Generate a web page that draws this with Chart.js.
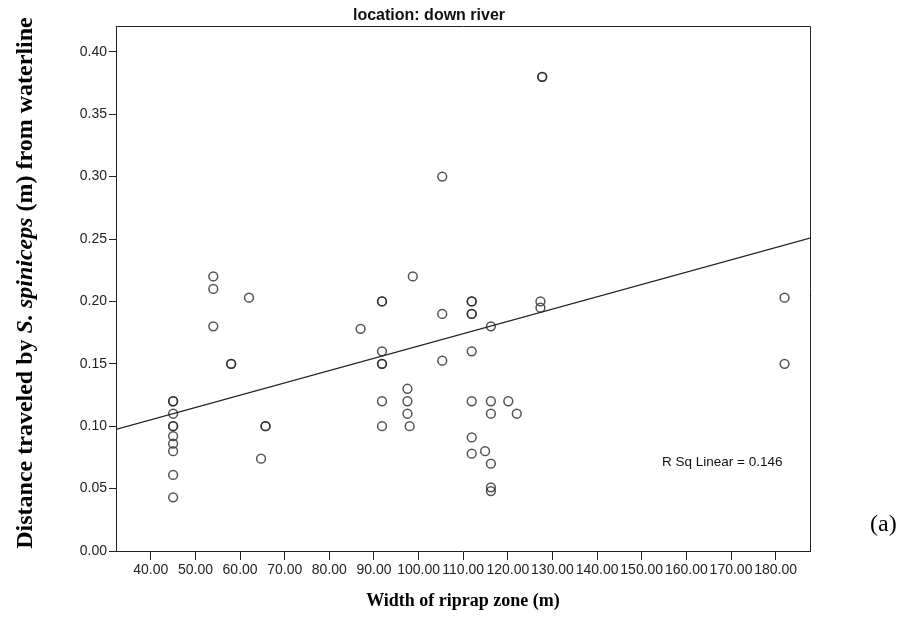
<!DOCTYPE html>
<html>
<head>
<meta charset="utf-8">
<title>location: down river</title>
<script src="https://cdn.jsdelivr.net/npm/chart.js@4/dist/chart.umd.min.js"></script>
<style>
  body { margin: 0; background: #fff; }
  #wrap { width: 905px; height: 628px; position: relative; }
</style>
</head>
<body>
<div id="wrap"><canvas id="chart"></canvas></div>
<script>
// riprap width (m) and distance from waterline (m), one entry per fish
const widths = [
  45, 45, 45, 45, 45, 45, 45, 45, 45, 45,
  54, 54, 54,
  58, 58,
  62,
  64.7,
  65.7, 65.7,
  87,
  91.8, 91.8, 91.8, 91.8, 91.8, 91.8, 91.8,
  97.5, 97.5, 97.5,
  98,
  98.7,
  105.3, 105.3, 105.3,
  111.9, 111.9, 111.9, 111.9, 111.9, 111.9, 111.9, 111.9,
  114.9,
  116.2, 116.2, 116.2, 116.2, 116.2, 116.2,
  120.1,
  122,
  127.3, 127.3,
  127.7, 127.7,
  182, 182
];
const distances = [
  0.12, 0.12, 0.11, 0.10, 0.10, 0.092, 0.086, 0.08, 0.061, 0.043,
  0.22, 0.21, 0.18,
  0.15, 0.15,
  0.203,
  0.074,
  0.10, 0.10,
  0.178,
  0.20, 0.20, 0.16, 0.15, 0.15, 0.12, 0.10,
  0.13, 0.12, 0.11,
  0.10,
  0.22,
  0.30, 0.19, 0.1525,
  0.20, 0.20, 0.19, 0.19, 0.16, 0.12, 0.091, 0.078,
  0.08,
  0.18, 0.12, 0.11, 0.07, 0.051, 0.048,
  0.12,
  0.11,
  0.20, 0.195,
  0.38, 0.38,
  0.203, 0.15
];

// linear fit reported with the plot
const fitIntercept = 0.0657;
const fitSlope = 0.000986;
const rSquared = 0.146;

// axis ranges
const xMin = 32.2, xMax = 187.7;
const yMin = 0, yMax = 0.4207;

const points = widths.map((w, i) => ({ x: w, y: distances[i] }));
const fitLine = [xMin, xMax].map(x => ({ x: x, y: fitIntercept + fitSlope * x }));

const sans = '"Liberation Sans", Arial, sans-serif';
const serif = '"Liberation Serif", "Times New Roman", serif';

// frame, titles and the R² note drawn straight onto the canvas
const decorations = {
  id: 'decorations',
  afterDraw(chart) {
    const ctx = chart.ctx;
    const a = chart.chartArea;
    ctx.save();

    ctx.strokeStyle = '#222';
    ctx.lineWidth = 1;
    ctx.beginPath();
    ctx.moveTo(a.left, a.top + 0.5);
    ctx.lineTo(a.right + 0.5, a.top + 0.5);
    ctx.lineTo(a.right + 0.5, a.bottom);
    ctx.stroke();

    ctx.fillStyle = '#111';
    ctx.textBaseline = 'alphabetic';

    ctx.font = 'bold 16px ' + sans;
    ctx.textAlign = 'center';
    ctx.fillText('location: down river', 429, 19.5);

    ctx.font = '13.5px ' + sans;
    ctx.textAlign = 'left';
    ctx.textBaseline = 'middle';
    ctx.fillText('R Sq Linear = ' + rSquared.toFixed(3), 662, 462);

    ctx.fillStyle = '#000';
    ctx.textBaseline = 'alphabetic';
    ctx.font = 'bold 18px ' + serif;
    ctx.textAlign = 'center';
    ctx.fillText('Width of riprap zone (m)', 463, 606);

    ctx.font = '24px ' + serif;
    ctx.textAlign = 'left';
    ctx.fillText('(a)', 870, 531);

    // y title with the species name in italics
    const parts = [
      ['bold 24px ' + serif, 'Distance traveled by '],
      ['italic bold 24px ' + serif, 'S. spiniceps'],
      ['bold 24px ' + serif, ' (m) from waterline']
    ];
    let total = 0;
    parts.forEach(p => { ctx.font = p[0]; total += ctx.measureText(p[1]).width; });
    ctx.translate(32, 283);
    ctx.rotate(-Math.PI / 2);
    let pos = -total / 2;
    parts.forEach(p => {
      ctx.font = p[0];
      ctx.fillText(p[1], pos, 0);
      pos += ctx.measureText(p[1]).width;
    });

    ctx.restore();
  }
};

new Chart(document.getElementById('chart'), {
  type: 'scatter',
  data: {
    datasets: [
      {
        label: 'distance',
        data: points,
        pointStyle: 'circle',
        pointRadius: 4.4,
        pointBorderWidth: 1.5,
        pointBorderColor: 'rgba(40,40,40,0.8)',
        pointBackgroundColor: 'rgba(0,0,0,0)',
        showLine: false
      },
      {
        type: 'line',
        label: 'fit',
        data: fitLine,
        borderColor: '#222',
        borderWidth: 1.3,
        pointRadius: 0,
        fill: false
      }
    ]
  },
  options: {
    responsive: true,
    maintainAspectRatio: false,
    animation: false,
    layout: { padding: { left: 0, top: 26, right: 95, bottom: 0 } },
    plugins: {
      legend: { display: false },
      tooltip: { enabled: false }
    },
    scales: {
      x: {
        type: 'linear',
        min: xMin,
        max: xMax,
        afterFit(scale) { scale.height = 77; },
        border: { display: true, color: '#222', width: 1 },
        grid: { drawOnChartArea: false, drawTicks: true, tickLength: 9, color: '#222' },
        ticks: {
          stepSize: 10,
          includeBounds: false,
          autoSkip: false,
          maxRotation: 0,
          padding: 2,
          color: '#222',
          font: { family: sans, size: 14 },
          callback: v => v.toFixed(2)
        }
      },
      y: {
        type: 'linear',
        min: yMin,
        max: yMax,
        afterFit(scale) { scale.width = 116; },
        border: { display: true, color: '#222', width: 1 },
        grid: { drawOnChartArea: false, drawTicks: true, tickLength: 7, color: '#222' },
        ticks: {
          stepSize: 0.05,
          includeBounds: false,
          padding: 2,
          color: '#222',
          font: { family: sans, size: 14 },
          callback: v => v.toFixed(2)
        }
      }
    }
  },
  plugins: [decorations]
});
</script>
</body>
</html>
